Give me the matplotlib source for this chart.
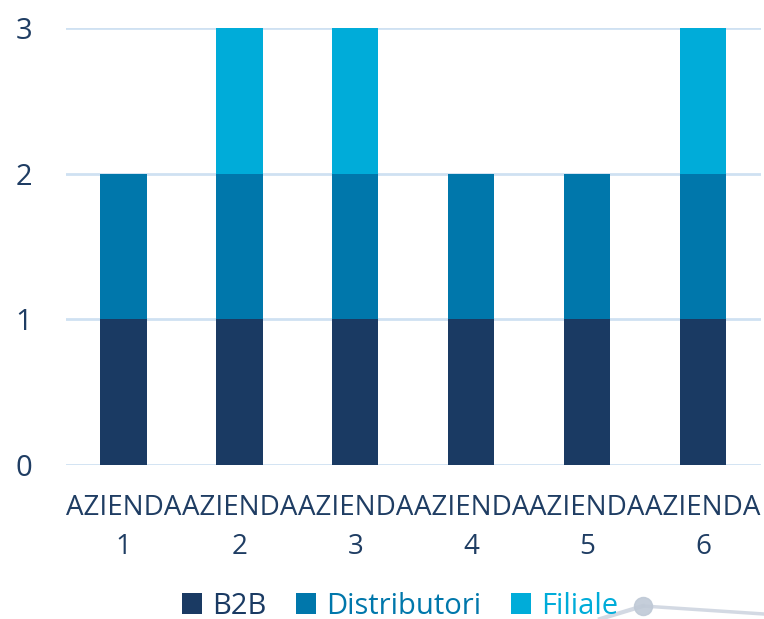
import numpy as np
from matplotlib import pyplot as plt
from matplotlib.lines import Line2D

plt.rcParams['font.family'] = ['Open Sans', 'DejaVu Sans']

categories = ["AZIENDA\n1", "AZIENDA\n2", "AZIENDA\n3", "AZIENDA\n4", "AZIENDA\n5", "AZIENDA\n6"]
b2b = [1, 1, 1, 1, 1, 1]
distributori = [1, 1, 1, 1, 1, 1]
filiale = [0, 1, 1, 0, 0, 1]

colors = ["#1a3a63", "#0077ab", "#00acd9"]
textColor = "#1f3d63"

fig = plt.figure(figsize=(7.64, 6.19), dpi=100)
ax = fig.add_axes([65.5 / 764, 154 / 619, 695.5 / 764, 437 / 619])

x = np.arange(len(categories))
w = 0.40
ax.bar(x, b2b, w, color=colors[0], label="B2B", zorder=3)
ax.bar(x, distributori, w, bottom=b2b, color=colors[1], label="Distributori", zorder=3)
bottom2 = np.array(b2b) + np.array(distributori)
ax.bar(x, filiale, w, bottom=bottom2, color=colors[2], label="Filiale", zorder=3)

ax.set_xlim(-0.5, len(categories) - 0.5)
ax.set_ylim(0, 3)
ax.set_yticks([0, 1, 2, 3])
ax.set_xticks(x)
ax.set_xticklabels(categories, fontsize=20, color=textColor, linespacing=1.5)
ax.tick_params(axis='y', labelsize=21, labelcolor=textColor, length=0, pad=24)
ax.tick_params(axis='x', length=0, pad=21)
ax.grid(axis='y', color="#cfe1f2", linewidth=2, zorder=0)
ax.set_axisbelow(True)
for s in ax.spines.values():
    s.set_visible(False)

leg = fig.legend(loc='center', bbox_to_anchor=(400 / 764, 1 - 606 / 619), ncol=3,
                 frameon=False, fontsize=21, handlelength=0.7, handleheight=0.7,
                 handletextpad=0.35, columnspacing=1.0)
for t, c in zip(leg.get_texts(), colors):
    t.set_color(c)

# faded decoration at bottom right
fig.add_artist(Line2D([643 / 764, 764 / 764], [1 - 606 / 619, 1 - 614 / 619],
                      transform=fig.transFigure, color="#c8d0dc", linewidth=2.5, alpha=0.8))
fig.add_artist(Line2D([600 / 764, 643 / 764], [0, 1 - 606 / 619],
                      transform=fig.transFigure, color="#c8d0dc", linewidth=3, alpha=0.8))
fig.add_artist(Line2D([643 / 764], [1 - 606 / 619], transform=fig.transFigure, marker='o',
                      markersize=13, color="#bfc9d6", alpha=0.9, linestyle='none'))

fig.savefig("out.png", dpi=100)
